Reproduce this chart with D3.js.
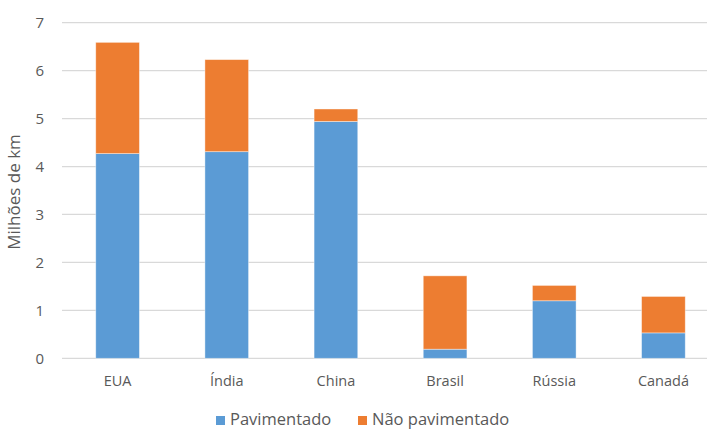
<!DOCTYPE html>
<html>
<head>
<meta charset="utf-8">
<script src="https://cdn.jsdelivr.net/npm/d3@7"></script>
<style>
  html, body { margin: 0; padding: 0; background: #fff; }
  svg { display: block; font-family: "Open Sans", "Noto Sans", sans-serif; }
</style>
</head>
<body>
<svg id="chart" width="707" height="430"></svg>
<script>
// Road network length by country, millions of km
const countries = ["EUA", "Índia", "China", "Brasil", "Rússia", "Canadá"];
const paved = [4.27, 4.31, 4.94, 0.19, 1.20, 0.53];
const unpaved = [2.32, 1.92, 0.26, 1.53, 0.32, 0.76];
const seriesNames = ["Pavimentado", "Não pavimentado"];
const seriesColors = ["#5b9bd5", "#ed7d31"];
const yTicks = [0, 1, 2, 3, 4, 5, 6, 7];

const svg = d3.select("#chart");

const rows = countries.map((c, i) => ({ country: c, "Pavimentado": paved[i], "Não pavimentado": unpaved[i] }));
const stacked = d3.stack().keys(seriesNames)(rows);

const x = d3.scaleBand().domain(countries).range([63, 718]).paddingInner(0.6).paddingOuter(0.3);
const y = d3.scaleLinear().domain([0, 7]).range([358.3, 22.7]);

// horizontal gridlines
svg.append("g")
  .selectAll("line")
  .data(yTicks)
  .join("line")
  .attr("x1", 62).attr("x2", 720)
  .attr("y1", d => y(d)).attr("y2", d => y(d))
  .attr("stroke", "#d9d9d9").attr("stroke-width", 1.3);

// y axis tick labels
const yAxis = d3.axisLeft(y).tickValues(yTicks).tickSize(0).tickPadding(0).tickFormat(d3.format("d"));
const yg = svg.append("g").attr("transform", "translate(44,0)").call(yAxis);
yg.select(".domain").remove();
yg.selectAll("text").attr("fill", "#595959").attr("font-size", 15).attr("font-family", "Open Sans, sans-serif");

// stacked bars
svg.append("g")
  .selectAll("g")
  .data(stacked)
  .join("g")
  .attr("fill", (d, i) => seriesColors[i])
  .selectAll("rect")
  .data(d => d)
  .join("rect")
  .attr("x", d => x(d.data.country))
  .attr("width", x.bandwidth())
  .attr("y", d => y(d[1]))
  .attr("height", d => y(d[0]) - y(d[1]))
  .attr("stroke", "#ffffff").attr("stroke-opacity", 0.5).attr("stroke-width", 0.8);

// x axis category labels
const xAxis = d3.axisBottom(x).tickSize(0).tickPadding(0);
const xg = svg.append("g").attr("transform", "translate(0,376)").call(xAxis);
xg.select(".domain").remove();
xg.selectAll("text").attr("fill", "#595959").attr("font-size", 14.5).attr("font-family", "Open Sans, sans-serif");

// y axis title
svg.append("text")
  .attr("transform", "translate(20,192) rotate(-90)")
  .attr("text-anchor", "middle")
  .attr("fill", "#595959")
  .attr("font-size", 17)
  .text("Milhões de km");

// legend
const legendX = [216, 358];
const legend = svg.append("g")
  .selectAll("g")
  .data(seriesNames)
  .join("g")
  .attr("transform", (d, i) => `translate(${legendX[i]},0)`);
legend.append("rect")
  .attr("x", 0).attr("y", 416).attr("width", 9).attr("height", 9)
  .attr("fill", (d, i) => seriesColors[i]);
legend.append("text")
  .attr("x", 14).attr("y", 425)
  .attr("fill", "#595959")
  .attr("font-size", 16.5)
  .text(d => d);
</script>
</body>
</html>
